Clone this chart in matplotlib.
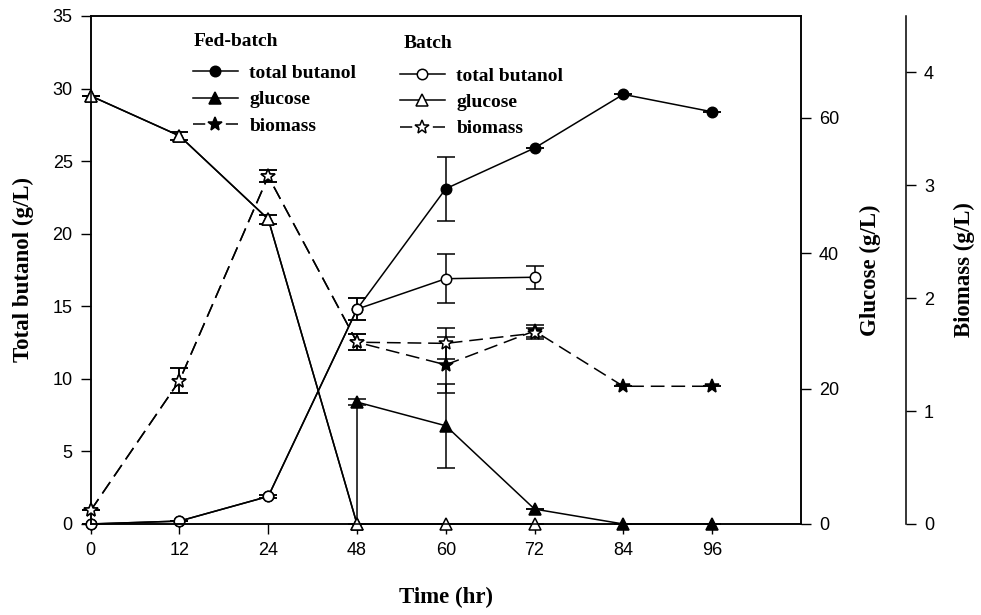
import numpy as np
import matplotlib
matplotlib.use("Agg")
import matplotlib.pyplot as plt

# sampling times (hr) - plotted at evenly spaced positions
times = [0, 12, 24, 48, 60, 72, 84, 96]
pos = {t: i for i, t in enumerate(times)}

# fed-batch
fb_but_t = [0, 12, 24, 48, 60, 72, 84, 96]
fb_but = [0.0, 0.2, 1.9, 14.8, 23.1, 25.9, 29.6, 28.4]
fb_but_err = [0, 0, 0.12, 0.78, 2.2, 0, 0, 0]
fb_glu_t = [0, 12, 24, 48, 48, 60, 72, 84, 96]
fb_glu = [63.2, 57.3, 45.0, 0.0, 18.0, 14.5, 2.2, 0.0, 0.0]
fb_glu_err = [0, 0.55, 0.67, 0, 0.5, 6.2, 0, 0, 0]
fb_bio_t = [0, 12, 24, 48, 60, 72, 84, 96]
fb_bio = [0.12, 1.27, 3.08, 1.61, 1.41, 1.71, 1.22, 1.22]
fb_bio_err = [0, 0.11, 0.055, 0.07, 0.25, 0.05, 0, 0]

# batch
b_t = [0, 12, 24, 48, 60, 72]
b_but = [0.0, 0.2, 1.9, 14.8, 16.9, 17.0]
b_but_err = [0, 0, 0.12, 0.78, 1.67, 0.8]
b_glu = [63.2, 57.3, 45.0, 0.0, 0.0, 0.0]
b_glu_err = [0, 0.55, 0.67, 0, 0, 0]
b_bio = [0.12, 1.27, 3.08, 1.61, 1.60, 1.69]
b_bio_err = [0, 0.11, 0.055, 0.07, 0.14, 0.05]

serif = "Liberation Serif"
sans = "Liberation Sans"
dash = (9, 4.5)

fig = plt.figure(figsize=(9.81, 6.15), dpi=100)
ax = fig.add_axes([0.0925, 0.148, 0.7238, 0.826])
ax2 = ax.twinx()
ax3 = ax.twinx()


def xs(tt):
    return [pos[t] for t in tt]


def draw(a, tt, y, err, marker, filled, ms, dashed=False):
    e = a.errorbar(xs(tt), y, yerr=err, color="black", lw=1.1, elinewidth=1.1,
                   capsize=6.5, capthick=1.1, marker=marker, ms=ms,
                   mfc="black" if filled else "white", mec="black", mew=1.1,
                   clip_on=False)
    line = e.lines[0]
    if dashed:
        line.set_dashes(dash)
    for c in e.lines[1]:
        c.set_clip_on(False)
    for b in e.lines[2]:
        b.set_clip_on(False)
    return line


h1 = draw(ax, fb_but_t, fb_but, fb_but_err, "o", True, 7.5)
h4 = draw(ax, b_t, b_but, b_but_err, "o", False, 7.5)
h2 = draw(ax2, fb_glu_t, fb_glu, fb_glu_err, "^", True, 9)
h5 = draw(ax2, b_t, b_glu, b_glu_err, "^", False, 9)
h3 = draw(ax3, fb_bio_t, fb_bio, fb_bio_err, "*", True, 10, dashed=True)
h6 = draw(ax3, b_t, b_bio, b_bio_err, "*", False, 10, dashed=True)

ax.set_xlim(0, 8)
ax.set_ylim(0, 35)
ax2.set_ylim(0, 75)
ax3.set_ylim(0, 4.5)

ax.set_xticks(range(len(times)))
ax.set_xticklabels([str(t) for t in times])
ax.set_yticks(np.arange(0, 36, 5))
ax2.set_yticks([0, 20, 40, 60])
ax3.set_yticks([0, 1, 2, 3, 4])

ax3.spines["right"].set_position(("axes", 1.148))
for s in ["top", "bottom", "left"]:
    ax3.spines[s].set_visible(False)

for a in (ax, ax2, ax3):
    a.tick_params(direction="out", length=7, width=1, labelsize=13, pad=6)
    for lab in a.get_xticklabels() + a.get_yticklabels():
        lab.set_fontfamily(sans)
    for s in a.spines.values():
        s.set_linewidth(1.1)

labfont = dict(fontfamily=serif, fontweight="bold", fontsize=16.5)
ax.set_xlabel("Time (hr)", **labfont)
ax.set_ylabel("Total butanol (g/L)", **labfont)
ax2.set_ylabel("Glucose (g/L)", **labfont)
ax3.set_ylabel("Biomass (g/L)", **labfont)
ax.xaxis.set_label_coords(0.5, -0.124)
ax.yaxis.set_label_coords(-0.08, 0.5)
ax2.yaxis.set_label_coords(1.083, 0.5)
ax3.yaxis.set_label_coords(1.216, 0.5)

# legends: group titles as plain text, entries as two legends
legfont = {"family": serif, "weight": "bold", "size": 14}
fig.text(194 / 981, 1 - 41 / 615, "Fed-batch", fontproperties=legfont, va="center")
fig.text(404 / 981, 1 - 43.5 / 615, "Batch", fontproperties=legfont, va="center")

names = ["total butanol", "glucose", "biomass"]
leg_kw = dict(prop=legfont, frameon=False, handlelength=2.3, handletextpad=0.6,
              labelspacing=0.45, borderpad=0, borderaxespad=0, loc="upper left",
              bbox_transform=fig.transFigure)
leg1 = ax3.legend([h1, h2, h3], names, bbox_to_anchor=(193 / 981, 1 - 64.5 / 615), **leg_kw)
ax3.add_artist(leg1)
leg2 = ax3.legend([h4, h5, h6], names, bbox_to_anchor=(400 / 981, 1 - 67 / 615), **leg_kw)

# dashed legend handles: one dash either side of the star
for lg in (leg1, leg2):
    lg.get_lines()[2].set_dashes((8, 13.5))

fig.savefig("out.png", dpi=100)
